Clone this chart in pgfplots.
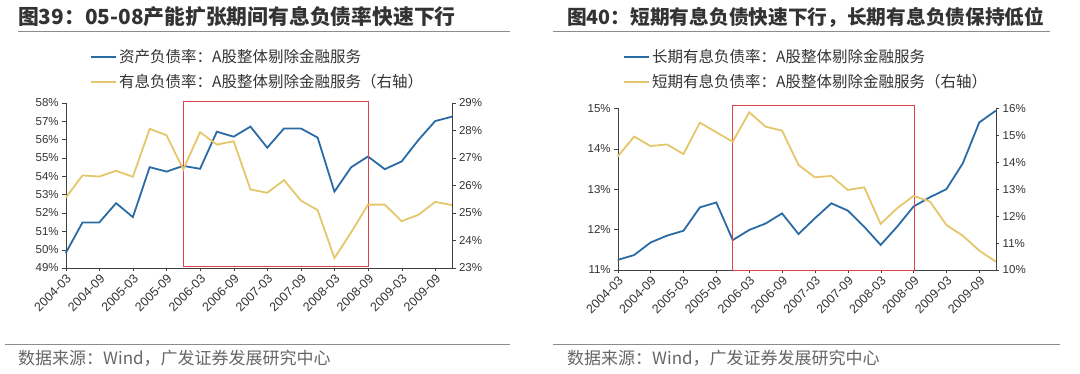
\documentclass[border=0pt]{standalone}
\usepackage{pgfplots}
\usepackage{pgfplotstable}
\pgfplotsset{compat=1.18}
\usepackage{fontspec}
\setmainfont{Liberation Sans}
\newfontfamily\cjk{Noto Sans CJK SC}
\definecolor{blueL}{HTML}{2A6AA5}
\definecolor{yellowL}{HTML}{E5C76B}
\definecolor{redbox}{HTML}{E2424A}
\definecolor{txt}{HTML}{333333}
\definecolor{rule}{HTML}{8C8C8C}

\pgfplotstableread{
i a b
0 49.81 25.55
1 51.48 26.36
2 51.48 26.32
3 52.53 26.53
4 51.77 26.31
5 54.49 28.05
6 54.25 27.82
7 54.56 26.58
8 54.40 27.93
9 56.42 27.48
10 56.15 27.60
11 56.70 25.85
12 55.55 25.73
13 56.60 26.19
14 56.60 25.45
15 56.10 25.10
16 53.16 23.36
17 54.49 24.30
18 55.07 25.30
19 54.38 25.30
20 54.80 24.70
21 55.97 24.93
22 57.00 25.40
23 57.24 25.28
}\dataA

\pgfplotstableread{
i a b
0 11.25 14.21
1 11.37 14.95
2 11.68 14.60
3 11.85 14.66
4 11.97 14.30
5 12.55 15.47
6 12.67 15.11
7 11.74 14.76
8 11.99 15.85
9 12.15 15.32
10 12.40 15.17
11 11.89 13.90
12 12.28 13.44
13 12.65 13.49
14 12.47 12.97
15 12.07 13.07
16 11.62 11.71
17 12.07 12.29
18 12.57 12.75
19 12.80 12.54
20 13.00 11.67
21 13.64 11.27
22 14.65 10.72
23 14.94 10.31
}\dataB

\pgfplotsset{
  base/.style={
    scale only axis, anchor=south west,
    xmin=0, xmax=23, clip=false,
    tick align=outside, major tick length=3.5pt,
    axis line style={-, black!75}, tick style={black!75},
    tick label style={font=\fontsize{11.5}{13}\selectfont, text=txt},
    /pgf/number format/assume math mode=true,
    yticklabel={\pgfmathprintnumber{\tick}\%},
  },
  xbase/.style={
    axis x line*=bottom, axis y line*=left,
    xtick={0,2,...,22},
    xticklabels={2004-03,2004-09,2005-03,2005-09,2006-03,2006-09,2007-03,2007-09,2008-03,2008-09,2009-03,2009-09},
    x tick label style={rotate=45, anchor=north east, inner sep=1.5pt, font=\fontsize{12.5}{13}\selectfont},
    legend cell align=left,
    legend image code/.code={\draw[#1] (0pt,0pt) -- (25pt,0pt);},
  },
  rbase/.style={axis y line*=right, axis x line=none},
}

\begin{document}
\begin{tikzpicture}[x=1pt,y=1pt]
\path (0,0) rectangle (1080,374);

% ---------- left panel ----------
\node[anchor=west, text=txt, inner sep=0pt] at (18,357) {\cjk\fontsize{20.8}{22}\selectfont\bfseries 图39：05-08产能扩张期间有息负债率快速下行};
\draw[rule, line width=1pt] (18,342) -- (510,342);

\begin{axis}[base, xbase, at={(65.7pt,106pt)}, width=386.3pt, height=165.3pt,
  ymin=49, ymax=58, ytick={49,50,...,58},
  legend style={at={(axis description cs:0.063,1.335)}, anchor=north west, draw=none, fill=none,
    font=\cjk\fontsize{15.5}{16}\selectfont, text=txt, row sep=6pt, inner sep=0pt}]
\addplot[blueL, line width=1.8pt] table[x=i, y=a] {\dataA};
\addlegendentry{资产负债率：A股整体剔除金融服务}
\addlegendimage{color=yellowL, line width=2pt}
\addlegendentry{有息负债率：A股整体剔除金融服务（右轴）}
\draw[redbox, line width=0.9pt] (axis cs:7,49.1) rectangle (axis cs:18,58.05);
\end{axis}
\begin{axis}[base, rbase, at={(65.7pt,106pt)}, width=386.3pt, height=165.3pt,
  ymin=23, ymax=29, ytick={23,24,...,29}]
\addplot[yellowL, line width=1.8pt] table[x=i, y=b] {\dataA};
\end{axis}

\draw[rule, line width=0.8pt] (5,30) -- (510,30);
\node[anchor=west, text=black!60, inner sep=0pt] at (18,16) {\cjk\fontsize{17}{18}\selectfont 数据来源：Wind，广发证券发展研究中心};

% ---------- right panel ----------
\node[anchor=west, text=txt, inner sep=0pt] at (567,357) {\cjk\fontsize{19.7}{22}\selectfont\bfseries 图40：短期有息负债快速下行，长期有息负债保持低位};
\draw[rule, line width=1pt] (553,342) -- (1050,342);

\begin{axis}[base, xbase, at={(617.7pt,104pt)}, width=378pt, height=161.7pt,
  ymin=11, ymax=15, ytick={11,12,...,15},
  legend style={at={(axis description cs:0.014,1.377)}, anchor=north west, draw=none, fill=none,
    font=\cjk\fontsize{15.5}{16}\selectfont, text=txt, row sep=6pt, inner sep=0pt}]
\addplot[blueL, line width=1.8pt] table[x=i, y=a] {\dataB};
\addlegendentry{长期有息负债率：A股整体剔除金融服务}
\addlegendimage{color=yellowL, line width=2pt}
\addlegendentry{短期有息负债率：A股整体剔除金融服务（右轴）}
\draw[redbox, line width=0.9pt] (axis cs:7,11) rectangle (axis cs:18.05,15.08);
\end{axis}
\begin{axis}[base, rbase, at={(617.7pt,104pt)}, width=378pt, height=161.7pt,
  ymin=10, ymax=16, ytick={10,11,...,16}]
\addplot[yellowL, line width=1.8pt] table[x=i, y=b] {\dataB};
\end{axis}

\draw[rule, line width=0.8pt] (553,30) -- (1060,30);
\node[anchor=west, text=black!60, inner sep=0pt] at (567,16) {\cjk\fontsize{17}{18}\selectfont 数据来源：Wind，广发证券发展研究中心};
\end{tikzpicture}
\end{document}
